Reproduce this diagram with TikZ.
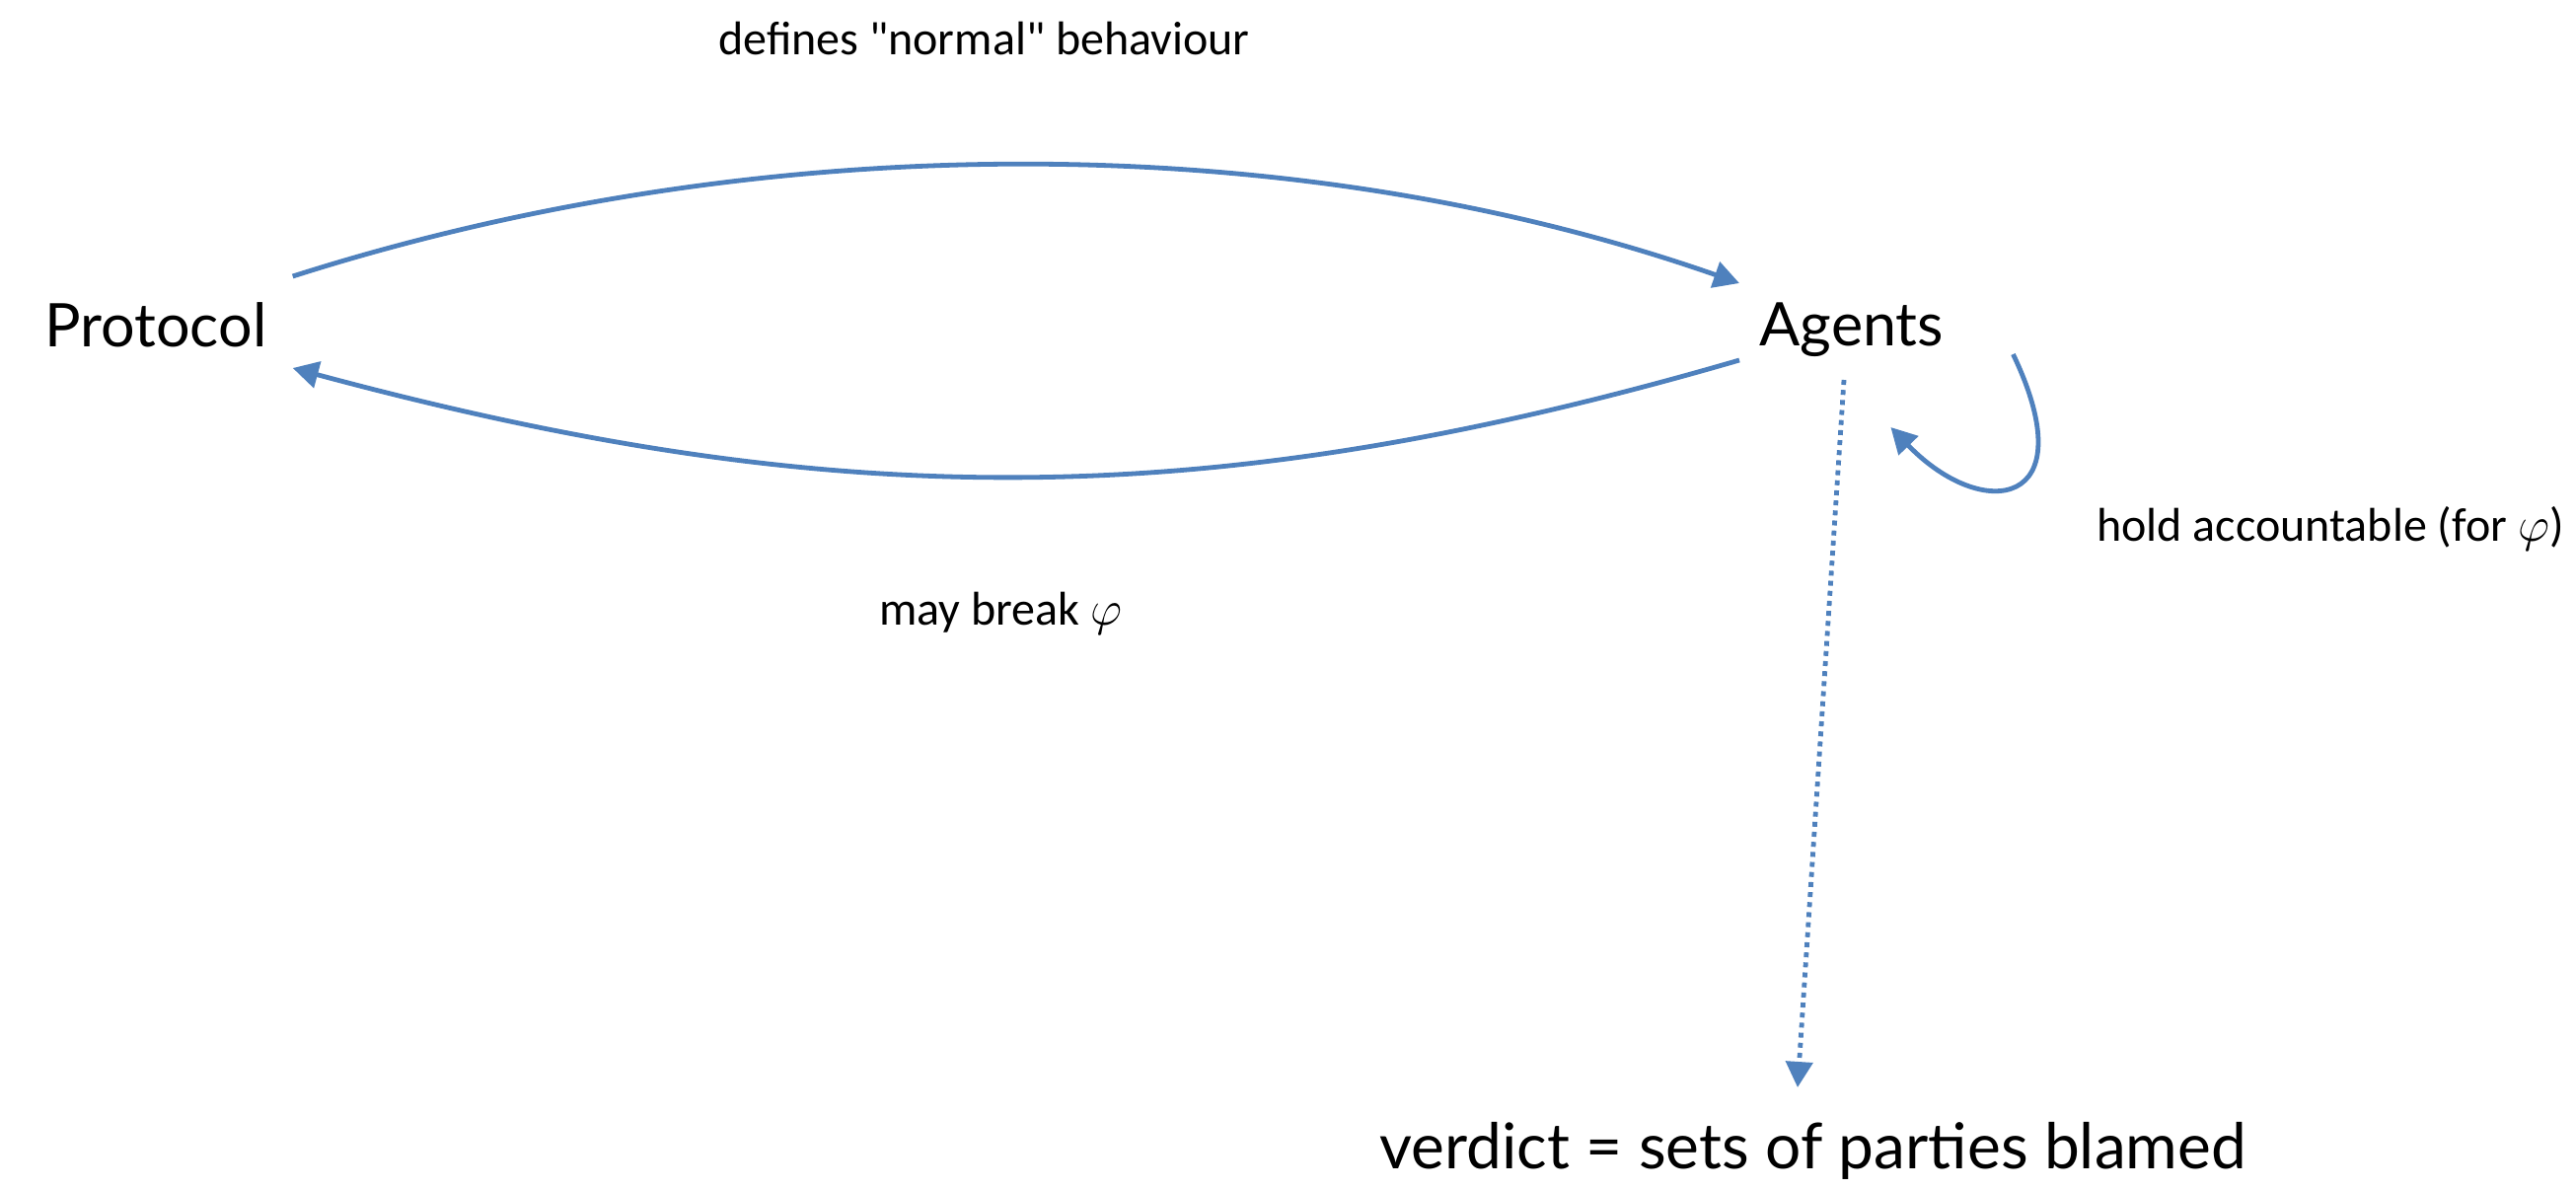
\documentclass[tikz,border=0pt]{standalone}
\usepackage{fontspec}
\setmainfont{Carlito}
\newfontfamily\gillfont{Lato}
\usetikzlibrary{arrows.meta,calc}
\definecolor{arrowblue}{HTML}{4F81BD}
\begin{document}
\begin{tikzpicture}[x=0.5pt,y=-0.5pt,
  conn/.style={draw=arrowblue, line width=2.4pt, -{Triangle[length=13pt,width=13.5pt]}},
  dotconn/.style={conn, dash pattern=on 2.5pt off 2.6pt},
  bigtext/.style={font=\gillfont\fontsize{30.5}{36}\selectfont, inner sep=0pt, anchor=base west},
  lbl/.style={font=\fontsize{24}{29}\selectfont, inner sep=0pt, anchor=base west}]
\path[use as bounding box, fill=white] (0,0) rectangle (2611,1205);
\node[bigtext] (protocol) at (45,351) {Protocol};
\node[bigtext] (agents) at (1783,350) {Agents};
\node[bigtext, font=\gillfont\fontsize{32}{38}\selectfont] (verdict) at (1398,1184) {verdict = sets of parties blamed};
\node[lbl] (ldefines) at (728,55) {defines \textquotedbl normal\textquotedbl\ behaviour};
\node[lbl] (lbreak) at (891,633) {may break $\varphi$};
\node[lbl] (lhold) at (2125,548) {hold accountable (for $\varphi$)};
\draw[conn] ($(protocol.base east)+(26,-71)$) .. controls (760,132) and (1300,125) .. ($(agents.base west)+(-20,-63)$);
\draw[conn] ($(agents.base west)+(-20,15)$) .. controls (1230,520) and (850,522) .. ($(protocol.base east)+(26,22)$);
\draw[conn] ($(agents.base east)+(70,9)$) .. controls (2115,515) and (2010,530) .. ($(agents.base east)+(-54,83)$);
\draw[dotconn] ($(agents.base west)+(86,35)$) -- ($(verdict.base west)+(424,-82)$);
\end{tikzpicture}
\end{document}
